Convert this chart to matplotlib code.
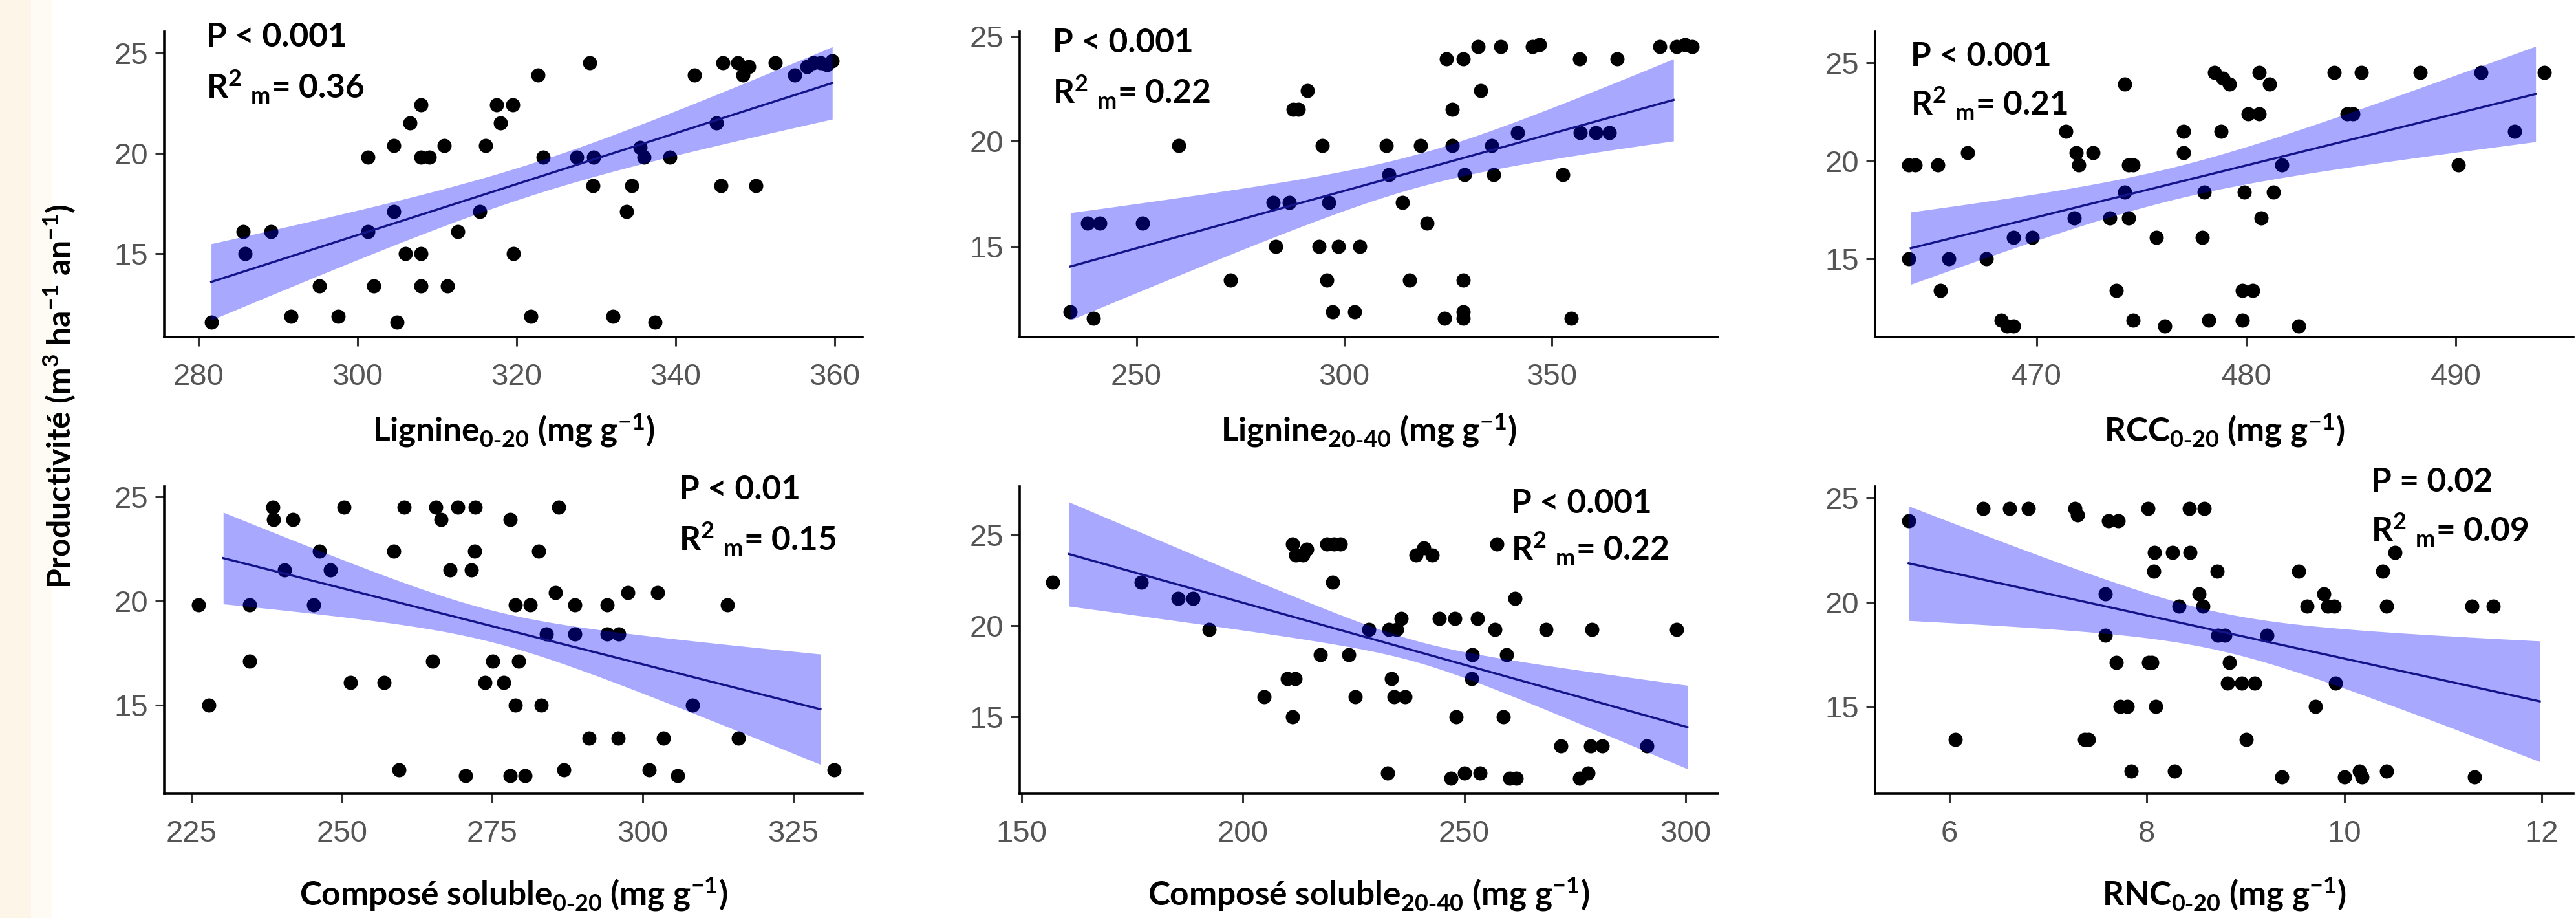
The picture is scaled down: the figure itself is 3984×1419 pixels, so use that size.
import numpy as np
import matplotlib
matplotlib.use("Agg")
import matplotlib.pyplot as plt
from matplotlib.patches import Rectangle

# ---------------- data ----------------
lig020_x = [281.6, 285.6, 285.9, 289.1, 291.6, 295.2, 297.6, 301.3, 301.3, 302.0, 304.6, 304.6, 305.0,
            306.0, 306.6, 308.0, 308.0, 309.0, 308.0, 308.0, 310.9, 311.3, 312.6, 315.4, 316.1, 318.0,
            317.5, 319.5, 319.6, 321.8, 322.7, 323.3, 327.6, 329.2, 329.7, 329.6, 332.1, 333.8, 334.5,
            335.5, 336.0, 337.4, 339.3, 342.4, 345.1, 345.7, 345.9, 347.8, 348.5, 349.2, 350.1, 352.5,
            355.0, 356.5, 357.3, 358.2, 359.0, 359.7]
lig020_y = [11.6, 16.1, 15.0, 16.1, 11.9, 13.4, 11.9, 19.8, 16.1, 13.4, 20.4, 17.1, 11.6,
            15.0, 21.5, 22.4, 19.8, 19.8, 15.0, 13.4, 20.4, 13.4, 16.1, 17.1, 20.4, 21.5,
            22.4, 22.4, 15.0, 11.9, 23.9, 19.8, 19.8, 24.5, 19.8, 18.4, 11.9, 17.1, 18.4,
            20.3, 19.8, 11.6, 19.8, 23.9, 21.5, 18.4, 24.5, 24.5, 23.9, 24.3, 18.4, 24.5,
            23.9, 24.3, 24.5, 24.5, 24.4, 24.6]

lig2040_x = [234.1, 239.7, 238.3, 241.2, 251.5, 260.2, 272.6, 282.9, 286.8, 283.5, 287.7, 289.0, 291.2,
             293.9, 298.6, 303.8, 294.8, 296.3, 295.8, 297.3, 302.5, 310.2, 310.8, 314.1, 315.7, 318.4,
             319.9, 324.2, 324.7, 326.0, 326.0, 328.6, 329.0, 328.6, 328.7, 328.7, 332.2, 332.9, 335.5,
             336.0, 337.7, 341.8, 345.3, 347.0, 352.6, 354.7, 356.7, 356.9, 360.6, 363.8, 365.7, 376.0,
             380.0, 382.0, 383.8]
lig2040_y = [11.9, 11.6, 16.1, 16.1, 16.1, 19.8, 13.4, 17.1, 17.1, 15.0, 21.5, 21.5, 22.4,
             15.0, 15.0, 15.0, 19.8, 17.1, 13.4, 11.9, 11.9, 19.8, 18.4, 17.1, 13.4, 19.8,
             16.1, 11.6, 23.9, 21.5, 19.8, 23.9, 18.4, 13.4, 11.9, 11.6, 24.5, 22.4, 19.8,
             18.4, 24.5, 20.4, 24.5, 24.6, 18.4, 11.6, 23.9, 20.4, 20.4, 20.4, 23.9, 24.5,
             24.5, 24.6, 24.5]

rcc_x = [463.9, 464.2, 463.9, 465.3, 465.4, 465.8, 466.7, 467.6, 468.3, 468.6, 468.9, 468.9, 469.8,
         471.4, 471.8, 471.9, 472.0, 472.7, 473.5, 473.8, 474.2, 474.2, 474.4, 474.6, 474.4, 474.6,
         475.7, 476.1, 477.0, 477.0, 477.9, 478.0, 478.2, 478.5, 478.9, 479.2, 478.8, 479.8, 480.3,
         479.8, 479.9, 480.1, 480.6, 480.6, 481.1, 480.7, 481.3, 481.7, 482.5, 484.2, 484.8, 485.1,
         485.5, 488.3, 490.1, 491.2, 492.8, 494.2]
rcc_y = [19.8, 19.8, 15.0, 19.8, 13.4, 15.0, 20.4, 15.0, 11.9, 11.6, 11.6, 16.1, 16.1,
         21.5, 17.1, 20.4, 19.8, 20.4, 17.1, 13.4, 23.9, 18.4, 19.8, 19.8, 17.1, 11.9,
         16.1, 11.6, 21.5, 20.4, 16.1, 18.4, 11.9, 24.5, 24.2, 23.9, 21.5, 13.4, 13.4,
         11.9, 18.4, 22.4, 22.4, 24.5, 23.9, 17.1, 18.4, 19.8, 11.6, 24.5, 22.4, 22.4,
         24.5, 24.5, 19.8, 24.5, 21.5, 24.5]

cs020_x = [226.2, 227.9, 234.7, 234.7, 238.5, 238.7, 240.5, 241.9, 245.3, 246.3, 248.1, 250.4, 251.4,
           257.0, 258.6, 259.5, 260.4, 265.1, 265.6, 266.5, 268.0, 269.3, 270.5, 271.5, 272.1, 272.2,
           273.8, 275.1, 276.9, 278.0, 278.0, 280.4, 278.8, 278.8, 279.4, 281.3, 282.7, 283.1, 284.0,
           285.5, 286.0, 286.9, 288.7, 288.7, 291.1, 294.1, 294.1, 296.0, 295.9, 297.5, 301.1, 302.5,
           303.4, 305.8, 308.2, 314.1, 315.9, 331.8]
cs020_y = [19.8, 15.0, 19.8, 17.1, 24.5, 23.9, 21.5, 23.9, 19.8, 22.4, 21.5, 24.5, 16.1,
           16.1, 22.4, 11.9, 24.5, 17.1, 24.5, 23.9, 21.5, 24.5, 11.6, 21.5, 22.4, 24.5,
           16.1, 17.1, 16.1, 23.9, 11.6, 11.6, 19.8, 15.0, 17.1, 19.8, 22.4, 15.0, 18.4,
           20.4, 24.5, 11.9, 19.8, 18.4, 13.4, 19.8, 18.4, 18.4, 13.4, 20.4, 11.9, 20.4,
           13.4, 11.6, 15.0, 19.8, 13.4, 11.9]

cs2040_x = [157.0, 177.0, 185.4, 188.8, 192.4, 204.8, 211.2, 212.0, 213.5, 214.5, 210.0, 211.8, 211.2,
            217.5, 219.0, 220.5, 222.0, 220.3, 223.9, 225.4, 228.5, 233.0, 234.8, 233.6, 234.2, 236.7,
            235.8, 232.7, 239.1, 240.9, 242.7, 244.3, 247.0, 247.9, 248.2, 250.0, 251.8, 251.6, 253.0,
            253.6, 257.3, 256.9, 258.8, 259.5, 260.3, 261.8, 261.5, 268.5, 271.8, 276.1, 277.9, 278.5,
            281.2, 278.8, 291.2, 297.9]
cs2040_y = [22.4, 22.4, 21.5, 21.5, 19.8, 16.1, 24.5, 23.9, 23.9, 24.2, 17.1, 17.1, 15.0,
            18.4, 24.5, 24.5, 24.5, 22.4, 18.4, 16.1, 19.8, 19.8, 19.8, 17.1, 16.1, 16.1,
            20.4, 11.9, 23.9, 24.3, 23.9, 20.4, 11.6, 20.4, 15.0, 11.9, 18.4, 17.1, 20.4,
            11.9, 24.5, 19.8, 15.0, 18.4, 11.6, 11.6, 21.5, 19.8, 13.4, 11.6, 11.9, 13.4,
            13.4, 19.8, 13.4, 19.8]

rnc_x = [5.59, 6.06, 6.34, 6.61, 6.80, 7.27, 7.30, 7.37, 7.41, 7.58, 7.58, 7.61, 7.71, 7.69, 7.73,
         7.80, 7.84, 8.01, 8.02, 8.05, 8.07, 8.08, 8.09, 8.26, 8.28, 8.33, 8.43, 8.44, 8.53, 8.57,
         8.58, 8.71, 8.72, 8.79, 8.82, 8.84, 8.96, 9.09, 9.01, 9.22, 9.37, 9.54, 9.62, 9.71, 9.79,
         9.83, 9.90, 9.91, 10.00, 10.15, 10.18, 10.39, 10.43, 10.43, 10.51, 11.29, 11.32, 11.51]
rnc_y = [23.9, 13.4, 24.5, 24.5, 24.5, 24.5, 24.2, 13.4, 13.4, 20.4, 18.4, 23.9, 23.9, 17.1, 15.0,
         15.0, 11.9, 24.5, 17.1, 17.1, 21.5, 22.4, 15.0, 22.4, 11.9, 19.8, 24.5, 22.4, 20.4, 19.8,
         24.5, 21.5, 18.4, 18.4, 16.1, 17.1, 16.1, 16.1, 13.4, 18.4, 11.6, 21.5, 19.8, 15.0, 20.4,
         19.8, 19.8, 16.1, 11.6, 11.9, 11.6, 21.5, 19.8, 11.9, 22.4, 19.8, 11.6, 19.8]

# fitted mixed-model lines (end points) and confidence-band half widths (left, middle, right)
fit_x = [[281.6, 359.7], [234.1, 379.3], [464.0, 493.8], [230.3, 329.5], [160.7, 300.4], [5.59, 11.98]]
fit_y = [[13.6, 23.5], [14.05, 21.96], [15.55, 23.4], [22.06, 14.8], [23.95, 14.42], [21.87, 15.24]]
band_x = [[281.6, 320.0, 359.7], [234.1, 310.0, 379.3], [464.0, 478.0, 493.8],
          [230.3, 280.0, 329.5], [160.7, 228.0, 300.4], [5.59, 8.8, 11.98]]
band_hw = [[1.9, 0.8, 1.8], [2.55, 0.82, 1.95], [1.84, 0.85, 2.43],
           [2.2, 0.8, 2.65], [2.87, 0.7, 2.3], [2.75, 0.92, 2.9]]

x_labels = [r"Lignine$_{0\text{-}20}$ (mg g$^{-1}$)", r"Lignine$_{20\text{-}40}$ (mg g$^{-1}$)",
            r"RCC$_{0\text{-}20}$ (mg g$^{-1}$)", r"Composé soluble$_{0\text{-}20}$ (mg g$^{-1}$)",
            r"Composé soluble$_{20\text{-}40}$ (mg g$^{-1}$)", r"RNC$_{0\text{-}20}$ (mg g$^{-1}$)"]
p_texts = ["P < 0.001", "P < 0.001", "P < 0.001", "P < 0.01", "P < 0.001", "P = 0.02"]
r2_texts = ["0.36", "0.22", "0.21", "0.15", "0.22", "0.09"]
x_ticks = [[280, 300, 320, 340, 360], [250, 300, 350], [470, 480, 490],
           [225, 250, 275, 300, 325], [150, 200, 250, 300], [6, 8, 10, 12]]
y_ticks = [15, 20, 25]
y_label = r"Productivité (m$^{3}$ ha$^{-1}$ an$^{-1}$)"

xs_all = [lig020_x, lig2040_x, rcc_x, cs020_x, cs2040_x, rnc_x]
ys_all = [lig020_y, lig2040_y, rcc_y, cs020_y, cs2040_y, rnc_y]

# ---------------- layout / style ----------------
plt.rcParams['font.family'] = ['Lato', 'DejaVu Sans']
plt.rcParams['mathtext.default'] = 'regular'

W, H = 3984, 1419
fig = plt.figure(figsize=(W / 100, H / 100), dpi=100)
fig.patch.set_facecolor('white')
fig.add_artist(Rectangle((0, 0), 0.012, 1, transform=fig.transFigure, color='#fcf5e8', zorder=0))
fig.add_artist(Rectangle((0.012, 0), 0.008, 1, transform=fig.transFigure, color='#fefbf5', zorder=0))

col_left = [254, 1577, 2900]
col_w = 1080
rows = [(49, 521), (752, 1227)]
xlims = [(275.7, 363.5), (221.9, 390.0), (462.3, 495.6), (220.5, 336.5), (149.6, 307.3), (5.25, 12.32)]
ylims = [(10.86, 26.05), (10.7, 25.2), (11.03, 26.57), (10.74, 25.5), (10.75, 27.67), (10.8, 25.56)]
ann_pos = [(0.060, 0.981, 0.818), (0.047, 0.962, 0.801), (0.051, 0.919, 0.763),
           (0.737, 0.988, 0.828), (0.704, 0.944, 0.796), (0.710, 1.013, 0.859)]

FS_TXT = 37
FS_TICK = 34

for i in range(6):
    r, c = divmod(i, 3)
    top, bot = rows[r]
    ax = fig.add_axes([col_left[c] / W, (H - bot) / H, col_w / W, (bot - top) / H])
    ax.set_facecolor('none')
    ax.scatter(xs_all[i], ys_all[i], s=250, color='black', linewidths=0, zorder=2)
    xx = np.linspace(fit_x[i][0], fit_x[i][1], 200)
    yy = np.interp(xx, fit_x[i], fit_y[i])
    coef = np.polyfit(band_x[i], np.square(band_hw[i]), 2)
    hw = np.sqrt(np.clip(np.polyval(coef, xx), 0.05, None))
    ax.fill_between(xx, yy - hw, yy + hw, color='#0000ff', alpha=0.34, linewidth=0, zorder=3)
    ax.plot(xx, yy, color='#14148a', lw=2.4, zorder=4)

    ax.set_xlim(*xlims[i])
    ax.set_ylim(*ylims[i])
    ax.set_xticks(x_ticks[i])
    ax.set_yticks(y_ticks)
    for s in ['top', 'right']:
        ax.spines[s].set_visible(False)
    for s in ['left', 'bottom']:
        ax.spines[s].set_linewidth(2.6)
        ax.spines[s].set_color('black')
    ax.tick_params(axis='both', length=10, width=2.2, color='#333333',
                   labelsize=FS_TICK, labelcolor='#555555')
    ax.tick_params(axis='x', pad=19)
    ax.tick_params(axis='y', pad=8)
    for lab in ax.get_xticklabels() + ax.get_yticklabels():
        lab.set_family(['Liberation Sans', 'DejaVu Sans'])

    ax.set_xlabel(x_labels[i], fontsize=FS_TXT, fontweight='bold', va='center')
    ax.xaxis.set_label_coords(0.5, -0.305 if r == 0 else -0.326)

    px, py1, py2 = ann_pos[i]
    ax.text(px, py1, p_texts[i], transform=ax.transAxes, fontsize=FS_TXT, fontweight='bold',
            ha='left', va='center')
    ax.text(px, py2, r"R$^{2}$ $_{m}$= " + r2_texts[i], transform=ax.transAxes, fontsize=FS_TXT,
            fontweight='bold', ha='left', va='center')

fig.text(92 / W, 0.568, y_label, rotation=90, fontsize=36, fontweight='bold', ha='center', va='center')

fig.savefig('out.png', dpi=100, facecolor=fig.get_facecolor())
